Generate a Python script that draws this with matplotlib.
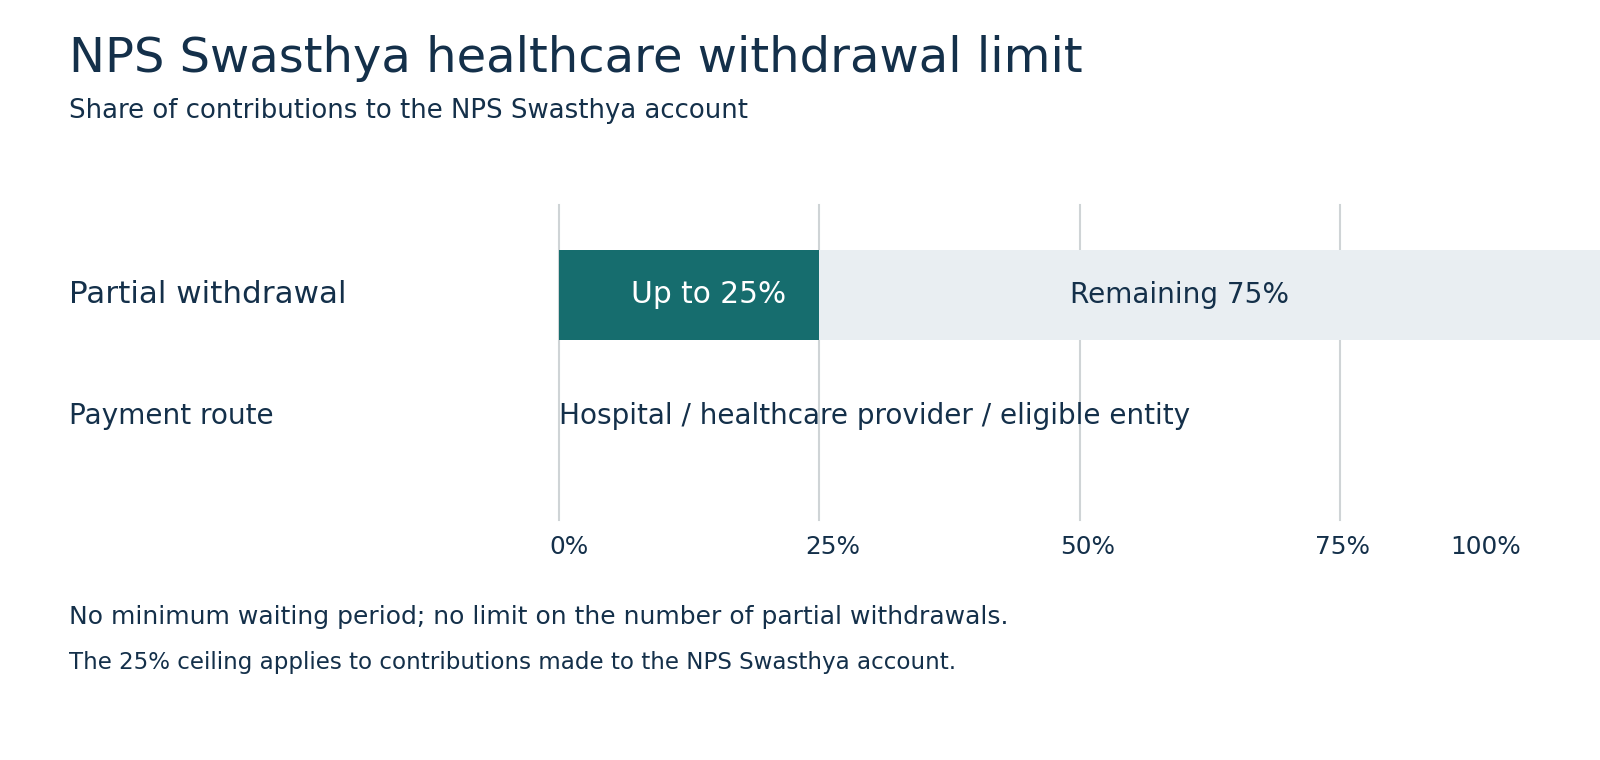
import matplotlib
matplotlib.use('Agg')
import matplotlib.pyplot as plt

# chart data
rows = ['Partial withdrawal', 'Payment route']
segment_labels = ['Up to 25%', 'Remaining 75%']
segment_values = [25, 75]
route_text = 'Hospital / healthcare provider / eligible entity'
tick_values = [0, 25, 50, 75, 100]
tick_labels = ['0%', '25%', '50%', '75%', '100%']
notes = ['No minimum waiting period; no limit on the number of partial withdrawals.',
         'The 25% ceiling applies to contributions made to the NPS Swasthya account.']

navy = '#14304a'
teal = '#166d6e'
light = '#e9eef2'
grid_col = '#cfd4d6'

W, H = 1600, 760
fig = plt.figure(figsize=(16, 7.6), dpi=100)
fig.patch.set_facecolor('white')

# axes placed in pixel terms: x 559..1600, y 205..520
ax = fig.add_axes([559 / W, 1 - 520 / H, 1041 / W, 315 / H])
ax.set_xlim(0, 100)
ax.set_ylim(1.857, -0.74)
ax.axis('off')

for v in tick_values[:-1]:
    ax.axvline(v, color=grid_col, lw=1.5, zorder=0, clip_on=False)

# stacked bar for first row
left = 0
colors = [teal, light]
for val, lab, c in zip(segment_values, segment_labels, colors):
    ax.barh(0, val, left=left, height=0.74, color=c, zorder=2)
    left += val

ax.text(segment_values[0] - 3.2, 0, segment_labels[0], color='white',
        fontsize=21.3, ha='right', va='center', zorder=3)
ax.text(segment_values[0] + 34.6, 0, segment_labels[1], color=navy,
        fontsize=20.2, ha='center', va='center', zorder=3)

ax.text(0, 1, route_text, color=navy, fontsize=20.1, ha='left', va='center', zorder=3)

# row labels
fig.text(69 / W, 1 - 295 / H, rows[0], color=navy, fontsize=22.3, ha='left', va='center')
fig.text(69 / W, 1 - 416 / H, rows[1], color=navy, fontsize=20.2, ha='left', va='center')

# tick labels (positions as drawn in the reference)
tick_label_x = [1.0, 26.3, 50.8, 75.3, 89.0]
for x, t in zip(tick_label_x, tick_labels):
    ax.text(x, 2.08, t, color=navy, fontsize=17.8, ha='center', va='center', clip_on=False)

fig.text(69 / W, 1 - 59 / H, 'NPS Swasthya healthcare withdrawal limit',
         color=navy, fontsize=34.6, ha='left', va='center')
fig.text(69 / W, 1 - 111 / H, 'Share of contributions to the NPS Swasthya account',
         color=navy, fontsize=18.7, ha='left', va='center')
fig.text(69 / W, 1 - 617 / H, notes[0], color=navy, fontsize=18, ha='left', va='center')
fig.text(69 / W, 1 - 663 / H, notes[1], color=navy, fontsize=16.6, ha='left', va='center')

plt.savefig('out.png', dpi=100, facecolor='white')
